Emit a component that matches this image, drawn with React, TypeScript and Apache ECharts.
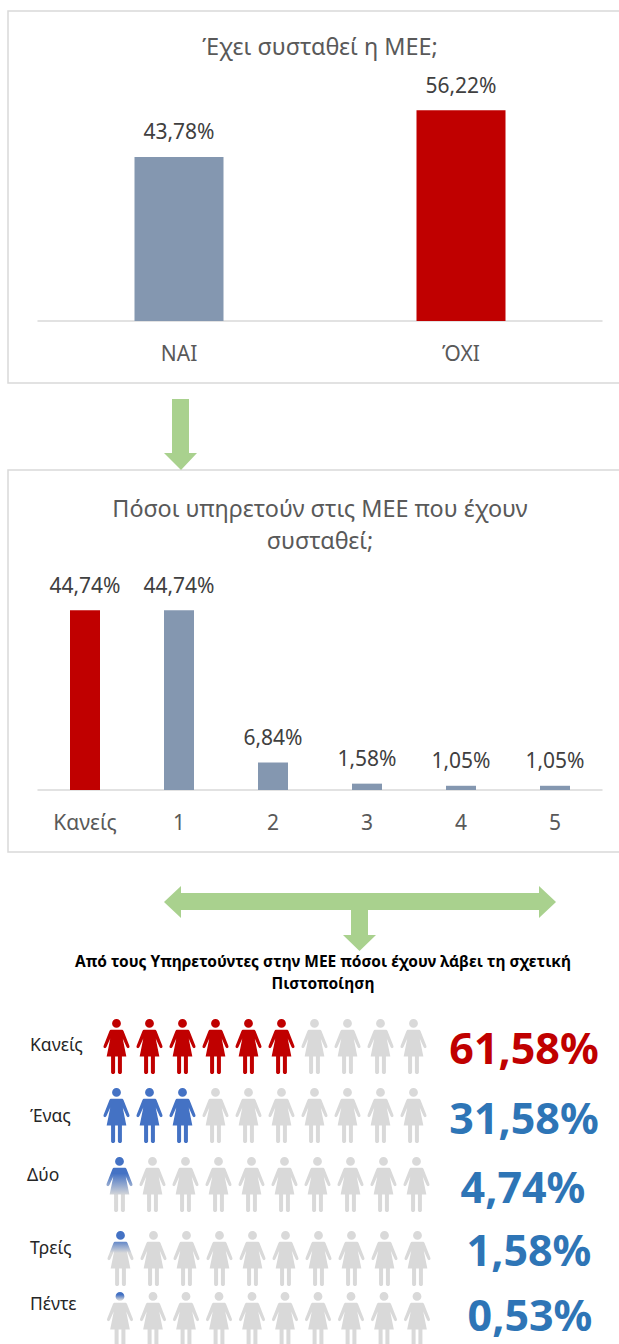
import React, { useEffect, useRef } from "react";
import * as echarts from "echarts";

const FONT = "'Noto Sans', sans-serif";

const establishedCategories = ["ΝΑΙ", "ΌΧΙ"];
const establishedValues = [43.78, 56.22];
const establishedColors = ["#8497b0", "#c00000"];

const staffCategories = ["Κανείς", "1", "2", "3", "4", "5"];
const staffValues = [44.74, 44.74, 6.84, 1.58, 1.05, 1.05];
const staffColors = ["#c00000", "#8497b0", "#8497b0", "#8497b0", "#8497b0", "#8497b0"];

const certifiedLabels = ["Κανείς", "Ένας", "Δύο", "Τρείς", "Πέντε"];
const certifiedValues = ["61,58%", "31,58%", "4,74%", "1,58%", "0,53%"];
const certifiedColors = ["#c00000", "#2e75b6", "#2e75b6", "#2e75b6", "#2e75b6"];
const iconsFull = [6, 3, 0, 0, 0];
const iconColors = ["#c00000", "#4472c4", "#4472c4", "#4472c4", "#4472c4"];
// [solid until, fade out by] as a share of the height of the first icon
const iconPartial: (number[] | null)[] = [null, null, [0.3, 0.7], [0.14, 0.4], [0.05, 0.15]];

const ICON_COUNT = 10;
const GREY = "#d9d9d9";
const GREEN = "#a9d18e";

// Row layout (pixels)
const rowLeft = [100, 100, 103, 104, 103.5];
const rowCentre = [1046.5, 1115.5, 1184.5, 1258.5, 1322.5];
const rowLabelX = [30, 30, 27, 30, 30];
const rowLabelY = [1044, 1115, 1174, 1247, 1303];
const rowValueX = [524, 524, 523, 529, 530];
const rowValueY = [1047, 1117, 1186, 1249, 1314];

const WOMAN =
  "path://M13 0C15.4 0 17.4 2 17.4 4.4C17.4 6.8 15.4 8.8 13 8.8C10.6 8.8 8.6 6.8 8.6 4.4C8.6 2 10.6 0 13 0Z" +
  "M8 10.7L18 10.7C19 10.7 19.6 11.2 20 12L25.8 26.6C26.2 27.8 25.8 28.6 25 29C24.2 29.3 23.4 28.9 23 28L19.2 19.5L22.8 37.3L18.4 37.3L18.4 53C18.4 54.1 17.6 54.8 16.5 54.8C15.3 54.8 14.4 54.1 14.4 53L14.4 37.3L11.6 37.3L11.6 53C11.6 54.1 10.7 54.8 9.5 54.8C8.4 54.8 7.6 54.1 7.6 53L7.6 37.3L3.2 37.3L6.8 19.5L3 28C2.6 28.9 1.8 29.3 1 29C0.2 28.6 -0.2 27.8 0.2 26.6L6 12C6.4 11.2 7 10.7 8 10.7Z";

function iconFill(row: number, i: number): any {
  if (i < iconsFull[row]) return iconColors[row];
  const partial = iconPartial[row];
  if (i === 0 && partial) {
    return new echarts.graphic.LinearGradient(0, 0, 0, 1, [
      { offset: 0, color: iconColors[row] },
      { offset: partial[0], color: iconColors[row] },
      { offset: partial[1], color: GREY },
      { offset: 1, color: GREY },
    ]);
  }
  return GREY;
}

function polygon(points: number[][], fill: string, z = 5) {
  return { type: "polygon", z, silent: true, shape: { points }, style: { fill } };
}

function panel(top: number, bottom: number) {
  return {
    type: "polyline",
    z: 1,
    silent: true,
    shape: { points: [[619, top], [8, top], [8, bottom], [619, bottom]] },
    style: { stroke: "#d9d9d9", lineWidth: 1.5, fill: "none" },
  };
}

function buildOption(): any {
  const iconIdx = Array.from({ length: ICON_COUNT }, (_, i) => i);
  const rowGrids = certifiedLabels.map((_, r) => ({
    left: rowLeft[r],
    top: rowCentre[r] - 27.5,
    width: 330,
    height: 55,
  }));
  const rowX = certifiedLabels.map((_, r) => ({
    type: "category",
    gridIndex: r + 2,
    data: iconIdx.map(String),
    show: false,
  }));
  const rowY = certifiedLabels.map((_, r) => ({
    type: "category",
    gridIndex: r + 2,
    data: [certifiedLabels[r]],
    show: false,
  }));
  const rowSeries = certifiedLabels.map((_, r) => ({
    type: "scatter",
    xAxisIndex: r + 2,
    yAxisIndex: r + 2,
    clip: false,
    symbol: WOMAN,
    symbolSize: [26, 55],
    silent: true,
    data: iconIdx.map((i) => ({
      value: [i, 0],
      itemStyle: { color: iconFill(r, i), opacity: 1 },
    })),
  }));

  const barAxis = (gridIndex: number, data: string[]) => ({
    type: "category",
    gridIndex,
    data,
    axisLine: { lineStyle: { color: "#d9d9d9", width: 1.5 } },
    axisTick: { show: false },
    axisLabel: { color: "#595959", fontFamily: FONT, fontSize: 21, margin: 21 },
  });
  const valueAxis = (gridIndex: number, max: number) => ({
    type: "value",
    gridIndex,
    min: 0,
    max,
    show: false,
    splitLine: { show: false },
  });
  const barLabel = {
    show: true,
    position: "top",
    distance: 15,
    color: "#404040",
    fontFamily: FONT,
    fontSize: 21,
    formatter: (p: any) => p.value.toFixed(2).replace(".", ",") + "%",
  };

  return {
    animation: false,
    backgroundColor: "#ffffff",
    title: [
      {
        text: "Έχει συσταθεί η ΜΕΕ;",
        left: 315,
        top: 29,
        textAlign: "center",
        textStyle: { color: "#595959", fontFamily: FONT, fontSize: 23.4, fontWeight: "normal" },
      },
      {
        text: "Πόσοι υπηρετούν στις ΜΕΕ που έχουν\nσυσταθεί;",
        left: 315,
        top: 487,
        textAlign: "center",
        textStyle: {
          color: "#595959",
          fontFamily: FONT,
          fontSize: 23.4,
          fontWeight: "normal",
          lineHeight: 32,
        },
      },
    ],
    grid: [
      { left: 38, width: 564, top: 96.2, height: 224.8 },
      { left: 38, width: 564, top: 589, height: 201 },
      ...rowGrids,
    ],
    xAxis: [barAxis(0, establishedCategories), barAxis(1, staffCategories), ...rowX],
    yAxis: [valueAxis(0, 60), valueAxis(1, 50), ...rowY],
    series: [
      {
        type: "bar",
        xAxisIndex: 0,
        yAxisIndex: 0,
        barWidth: 89,
        label: barLabel,
        silent: true,
        data: establishedValues.map((value, i) => ({
          value,
          itemStyle: { color: establishedColors[i] },
        })),
      },
      {
        type: "bar",
        xAxisIndex: 1,
        yAxisIndex: 1,
        barWidth: 30,
        label: barLabel,
        silent: true,
        data: staffValues.map((value, i) => ({
          value,
          itemStyle: { color: staffColors[i] },
        })),
      },
      ...rowSeries,
    ],
    graphic: [
      panel(11, 383),
      panel(470, 852),
      polygon(
        [[172, 399], [189, 399], [189, 453], [197, 453], [181, 470], [164, 453], [172, 453]],
        GREEN
      ),
      polygon(
        [
          [164, 902], [181, 886], [181, 893], [539, 893], [539, 886], [556, 902], [539, 918],
          [539, 910], [368, 910], [368, 935], [376, 935], [359.5, 951], [343, 935], [351, 935],
          [351, 910], [181, 910], [181, 918],
        ],
        GREEN
      ),
      {
        type: "text",
        z: 6,
        silent: true,
        x: 323,
        y: 972,
        style: {
          text: "Από τους Υπηρετούντες στην ΜΕΕ πόσοι έχουν λάβει τη σχετική\nΠιστοποίηση",
          fill: "#000000",
          font: `bold 15.5px ${FONT}`,
          lineHeight: 22,
          align: "center",
          verticalAlign: "middle",
        },
      },
      ...certifiedLabels.map((text, r) => ({
        type: "text",
        z: 6,
        silent: true,
        x: rowLabelX[r],
        y: rowLabelY[r],
        style: { text, fill: "#262626", font: `17.5px ${FONT}`, verticalAlign: "middle" },
      })),
      ...certifiedValues.map((text, r) => ({
        type: "text",
        z: 6,
        silent: true,
        x: rowValueX[r],
        y: rowValueY[r],
        style: {
          text,
          fill: certifiedColors[r],
          font: `bold 43px ${FONT}`,
          align: "center",
          verticalAlign: "middle",
        },
      })),
    ],
  };
}

export default function App() {
  const ref = useRef<HTMLDivElement>(null);
  useEffect(() => {
    document.body.style.margin = "0";
    const chart = echarts.init(ref.current!, undefined, { renderer: "svg" });
    chart.setOption(buildOption());
    return () => chart.dispose();
  }, []);
  return <div ref={ref} style={{ width: 619, height: 1344, overflow: "hidden" }} />;
}
